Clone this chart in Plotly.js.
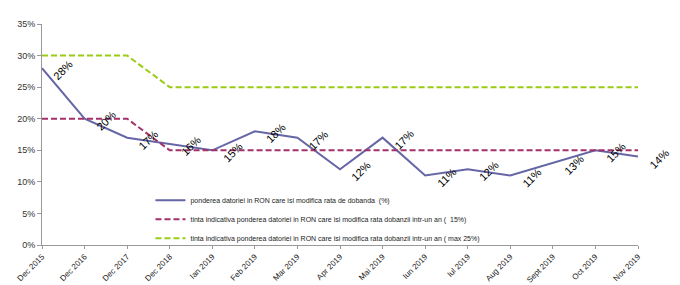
<!DOCTYPE html>
<html>
<head>
<meta charset="utf-8">
<script src="https://cdn.plot.ly/plotly-3.0.1.min.js"></script>
<style>html,body{margin:0;padding:0;background:#fff;}#chart{width:680px;height:285px;}</style>
</head>
<body>
<div id="chart"></div>
<script>
const categories = ["Dec 2015","Dec 2016","Dec 2017","Dec 2018","Ian 2019","Feb 2019","Mar 2019","Apr 2019","Mai 2019","Iun 2019","Iul 2019","Aug 2019","Sept 2019","Oct 2019","Nov 2019"];
const ponderea = [28,20,17,16,15,18,17,12,17,11,12,11,13,15,14];
const tinta15 = [20,20,20,15,15,15,15,15,15,15,15,15,15,15,15];
const tinta25 = [30,30,30,25,25,25,25,25,25,25,25,25,25,25,25];
const seriesNames = [
  "ponderea datoriei in RON care isi modifica rata de dobanda  (%)",
  "tinta indicativa ponderea datoriei in RON care isi modifica rata dobanzii intr-un an (  15%)",
  "tinta indicativa ponderea datoriei in RON care isi modifica rata dobanzii intr-un an ( max 25%)"
];
const yTicks = [0,5,10,15,20,25,30,35];
const yTickLabels = yTicks.map(v => v + "%");

const traces = [
  {x: categories, y: ponderea, name: seriesNames[0], type: "scatter", mode: "lines",
   line: {color: "#6666A6", width: 2}},
  {x: categories, y: tinta15, name: seriesNames[1], type: "scatter", mode: "lines",
   line: {color: "#A3306A", width: 2, dash: "6px,3px"}},
  {x: categories, y: tinta25, name: seriesNames[2], type: "scatter", mode: "lines",
   line: {color: "#9ACC14", width: 2, dash: "6px,3px"}}
];

const annotations = categories.map((c, i) => ({
  x: c, y: ponderea[i], xref: "x", yref: "y", text: ponderea[i] + "%",
  showarrow: false, textangle: -45, xshift: 21, yshift: -2,
  font: {family: "Liberation Sans, Arial, sans-serif", size: 11, color: "#000"}
}));

const layout = {
  width: 680, height: 285,
  margin: {l: 42, r: 42, t: 24, b: 40},
  paper_bgcolor: "#fff", plot_bgcolor: "#fff",
  font: {family: "Liberation Sans, Arial, sans-serif", size: 9, color: "#333"},
  showlegend: true,
  legend: {x: 0.182, y: 0.268, xanchor: "left", yanchor: "top", bgcolor: "rgba(0,0,0,0)",
           font: {size: 7, color: "#222"}, tracegroupgap: 0, traceorder: "normal"},
  xaxis: {type: "category", range: [0, 14], showgrid: false, zeroline: false,
          showline: true, linecolor: "#999", linewidth: 1,
          ticks: "outside", ticklen: 3, tickcolor: "#999", tickangle: -45,
          tickfont: {size: 8, color: "#222"}, fixedrange: true},
  yaxis: {range: [0, 35], tickvals: yTicks, ticktext: yTickLabels, showgrid: false,
          zeroline: false, showline: true, linecolor: "#999", linewidth: 1,
          ticks: "outside", ticklen: 4, tickcolor: "#999",
          tickfont: {size: 9, color: "#333"}, fixedrange: true},
  annotations: annotations
};

Plotly.newPlot("chart", traces, layout, {staticPlot: true, displayModeBar: false});
</script>
</body>
</html>
